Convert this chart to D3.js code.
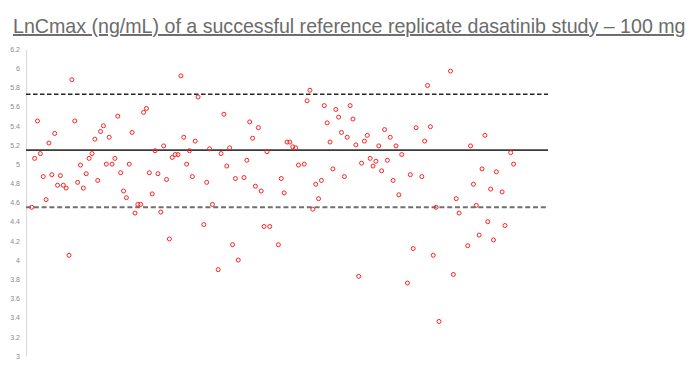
<!DOCTYPE html>
<html>
<head>
<meta charset="utf-8">
<script src="https://cdn.jsdelivr.net/npm/d3@7"></script>
<style>
  body { margin: 0; background: #fff; }
  svg { display: block; font-family: "Liberation Sans", Arial, sans-serif; }
</style>
</head>
<body>
<svg id="chart"></svg>
<script>
const titleText = "LnCmax (ng/mL) of a successful reference replicate dasatinib study \u2013 100 mg";

// subject number on the x axis, LnCmax on the y axis
const subjects = [
  2, 3, 4, 5, 6, 7, 8, 9, 10, 11, 12, 13, 14, 15, 16, 17, 18, 19, 20, 21,
  22, 23, 24, 25, 26, 27, 28, 29, 30, 31, 32, 33, 34, 35, 36, 37, 38, 39, 40, 41,
  42, 43, 44, 45, 46, 47, 48, 49, 50, 51, 52, 53, 54, 55, 56, 57, 58, 59, 60, 62,
  63, 64, 65, 67, 68, 69, 70, 71, 72, 73, 74, 76, 77, 78, 79, 80, 81, 82, 83, 84,
  85, 88, 89, 90, 91, 92, 93, 94, 95, 97, 98, 99, 100, 101, 102, 103, 104, 105, 106, 107,
  108, 109, 110, 111, 112, 113, 114, 115, 116, 117, 118, 119, 120, 121, 122, 123, 124, 125, 126, 127,
  128, 129, 130, 131, 133, 134, 135, 136, 138, 139, 140, 141, 142, 143, 144, 148, 149, 150, 151, 154,
  155, 156, 157, 158, 159, 160, 161, 162, 163, 164, 166, 167, 169, 170
];
const lnCmax = [
  4.55, 5.06, 5.45, 5.11, 4.87, 4.63, 5.22, 4.89, 5.32, 4.78, 4.88, 4.78, 4.75, 4.05, 5.88, 5.45, 4.81, 4.99, 4.75, 4.90,
  5.06, 5.11, 5.26, 4.83, 5.34, 5.40, 5.00, 5.28, 5.00, 5.06, 5.50, 4.91, 4.72, 4.65, 5.00, 5.33, 4.49, 4.58, 4.58, 5.54,
  5.58, 4.91, 4.69, 5.14, 4.90, 4.50, 5.19, 4.84, 4.22, 5.07, 5.10, 5.10, 5.92, 5.28, 5.00, 5.14, 4.87, 5.24, 5.70, 4.37,
  4.81, 5.16, 4.58, 3.90, 5.11, 5.52, 4.98, 5.17, 4.16, 4.85, 4.00, 4.86, 5.04, 5.44, 5.27, 4.77, 5.38, 4.72, 4.35, 5.13,
  4.35, 4.16, 4.85, 4.70, 5.23, 5.23, 5.18, 5.17, 4.99, 5.00, 5.66, 5.77, 4.53, 4.79, 4.64, 4.83, 5.61, 5.43, 5.23, 4.95,
  5.57, 5.49, 5.33, 4.87, 5.28, 5.61, 5.47, 5.20, 3.83, 5.01, 5.24, 5.30, 5.06, 4.98, 5.03, 5.19, 4.93, 5.36, 5.04, 5.28,
  4.83, 5.19, 4.68, 5.10, 3.76, 4.89, 4.12, 5.38, 4.87, 5.24, 5.82, 5.39, 4.05, 4.55, 3.36, 5.97, 3.85, 4.64, 4.49, 4.15,
  5.19, 4.79, 4.57, 4.26, 4.95, 5.30, 4.40, 4.74, 4.21, 4.92, 4.71, 4.36, 5.12, 5.00
];

// reference lines: mean and the two limits
const meanLine = 5.145;
const upperLimit = 5.728;
const lowerLimit = 4.551;

const yTicks = [3, 3.2, 3.4, 3.6, 3.8, 4, 4.2, 4.4, 4.6, 4.8, 5, 5.2, 5.4, 5.6, 5.8, 6, 6.2];

const width = 698, height = 370;

const svg = d3.select("#chart")
  .attr("width", width)
  .attr("height", height);

const x = d3.scaleLinear()
  .domain([0, 182])
  .range([26, 548]);

const y = d3.scaleLinear()
  .domain([3, 6.2])
  .range([356, 49]);

// title, underlined, stretched to the reference width
const title = svg.append("text")
  .attr("x", 13)
  .attr("y", 33)
  .attr("fill", "#6b6b6b")
  .style("font-size", "20px")
  .style("text-decoration", "underline")
  .text(titleText);
const tw = title.node().getComputedTextLength();
title.style("font-size", (20 * 673 / tw) + "px");

// y axis
const yAxis = svg.append("g")
  .attr("transform", "translate(26,0)")
  .call(d3.axisLeft(y).tickValues(yTicks).tickSize(0).tickPadding(6).tickFormat(d3.format("~g")));
yAxis.select(".domain").attr("stroke", "#d9d9d9").attr("stroke-width", 1);
yAxis.selectAll("text")
  .attr("fill", "#8c8c8c")
  .style("font-size", "7px")
  .style("font-family", "Liberation Sans, Arial, sans-serif");

// reference lines
svg.append("line")
  .attr("x1", x(0)).attr("x2", x(182))
  .attr("y1", y(upperLimit)).attr("y2", y(upperLimit))
  .attr("stroke", "#262626")
  .attr("stroke-width", 1.5)
  .attr("stroke-dasharray", "4.5,2.5");

svg.append("line")
  .attr("x1", x(0)).attr("x2", x(182))
  .attr("y1", y(meanLine)).attr("y2", y(meanLine))
  .attr("stroke", "#3a3a3a")
  .attr("stroke-width", 1.8);

svg.append("line")
  .attr("x1", x(0)).attr("x2", x(182))
  .attr("y1", y(lowerLimit)).attr("y2", y(lowerLimit))
  .attr("stroke", "#707070")
  .attr("stroke-width", 2)
  .attr("stroke-dasharray", "5,2.8");

// points
svg.append("g")
  .selectAll("circle")
  .data(subjects)
  .enter()
  .append("circle")
  .attr("cx", d => x(d))
  .attr("cy", (d, i) => y(lnCmax[i]))
  .attr("r", 2)
  .attr("fill", "none")
  .attr("stroke", "#ff2020")
  .attr("stroke-width", 1);
</script>
</body>
</html>
